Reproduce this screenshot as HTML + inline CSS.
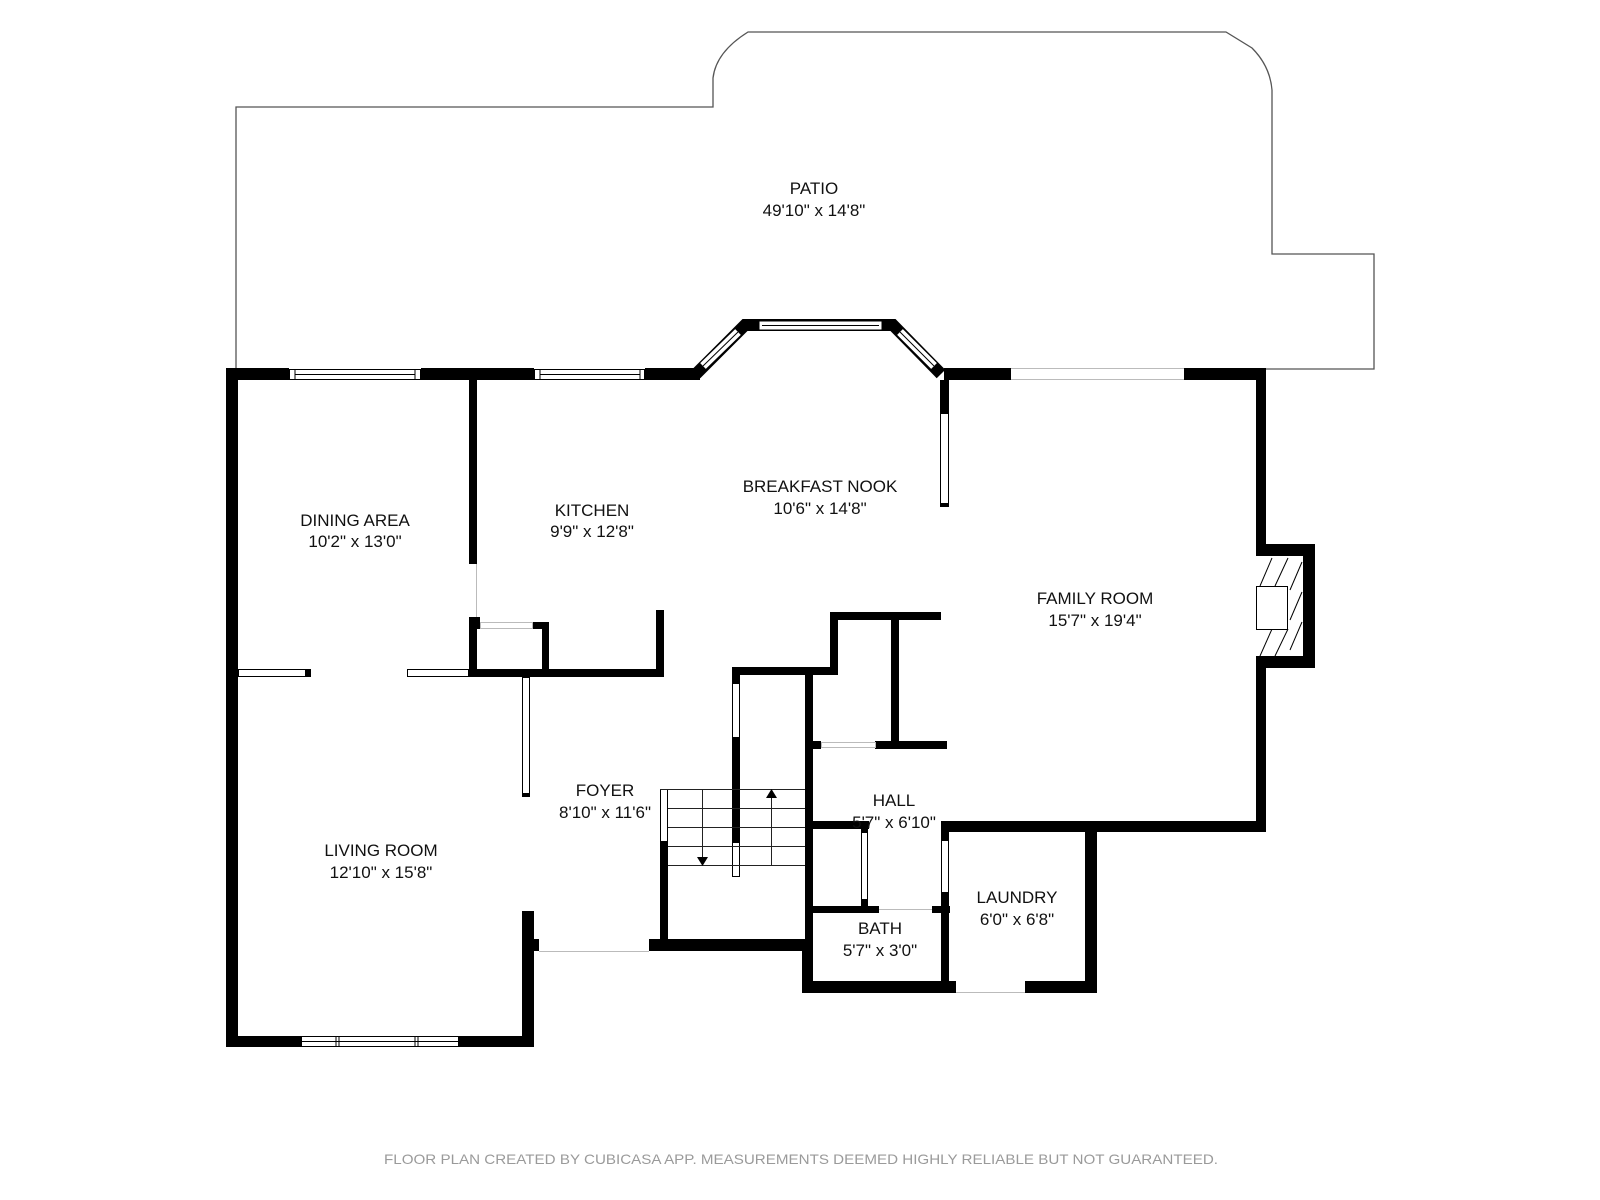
<!DOCTYPE html>
<html><head><meta charset="utf-8"><style>
html,body{margin:0;padding:0;background:#fff;}
svg{display:block;}
text{font-family:"Liberation Sans",Arial,sans-serif;fill:#111;}
</style></head><body>
<svg width="1600" height="1200" viewBox="0 0 1600 1200" xmlns="http://www.w3.org/2000/svg">
<!-- Patio outline -->
<path d="M236 368 L236 107 L713 107 L713 78 Q716 52 748 32 L1226 32 L1252 48 Q1270 66 1272 90 L1272 254 L1374 254 L1374 369 L1266 369" fill="none" stroke="#555" stroke-width="1.3"/>

<g fill="#000">
<rect x="226" y="368" width="63" height="12"/>
<rect x="421" y="368" width="113" height="12"/>
<rect x="645" y="368" width="55" height="12"/>
<rect x="226" y="368" width="12" height="679"/>
<rect x="226" y="1036" width="75" height="11"/>
<rect x="459" y="1036" width="75" height="11"/>
<rect x="522" y="911" width="12" height="136"/>
<rect x="534" y="939" width="5" height="12"/>
<rect x="469" y="380" width="8" height="184"/>
<rect x="469" y="617" width="8" height="60"/>
<rect x="469" y="617" width="11" height="12"/>
<rect x="533" y="622" width="16" height="7"/>
<rect x="542" y="622" width="7" height="55"/>
<rect x="469" y="669" width="195" height="8"/>
<rect x="656" y="610" width="8" height="67"/>
<rect x="306" y="669" width="5" height="8"/>
<rect x="522" y="793" width="8" height="4"/>
<rect x="660" y="842" width="8" height="109"/>
<rect x="649" y="939" width="164" height="12"/>
<rect x="732" y="667" width="105" height="8"/>
<rect x="830" y="612" width="8" height="63"/>
<rect x="830" y="612" width="111" height="8"/>
<rect x="891" y="620" width="8" height="129"/>
<rect x="875" y="741" width="72" height="8"/>
<rect x="812" y="741" width="9" height="8"/>
<rect x="732" y="667" width="8" height="16"/>
<rect x="732" y="738" width="8" height="104"/>
<rect x="805" y="675" width="8" height="318"/>
<rect x="802" y="939" width="11" height="54"/>
<rect x="813" y="821" width="56" height="8"/>
<rect x="861" y="821" width="7" height="11"/>
<rect x="861" y="900" width="7" height="6"/>
<rect x="813" y="906" width="66" height="7"/>
<rect x="932" y="906" width="18" height="7"/>
<rect x="941" y="821" width="8" height="19"/>
<rect x="941" y="893" width="8" height="99"/>
<rect x="802" y="981" width="154" height="12"/>
<rect x="1025" y="981" width="72" height="12"/>
<rect x="1085" y="821" width="12" height="172"/>
<rect x="941" y="821" width="325" height="11"/>
<rect x="1256" y="368" width="10" height="464"/>
<rect x="1256" y="544" width="59" height="124"/>
<rect x="944" y="368" width="67" height="12"/>
<rect x="1184" y="368" width="82" height="12"/>
<rect x="940" y="380" width="9" height="33"/>
<rect x="940" y="503" width="9" height="4"/>
</g>

<path d="M696 374 L745 325 L893 325 L941 374" fill="none" stroke="#000" stroke-width="12" stroke-linejoin="miter"/>
<rect x="759" y="321" width="123" height="9" fill="#fff" stroke="#000" stroke-width="1"/>
<line x1="762" y1="325.5" x2="879" y2="325.5" stroke="#000" stroke-width="1"/>
<line x1="703" y1="366" x2="738" y2="332" stroke="#fff" stroke-width="8"/>
<line x1="703" y1="366" x2="738" y2="332" stroke="#000" stroke-width="1"/>
<line x1="900" y1="332" x2="934" y2="366" stroke="#fff" stroke-width="8"/>
<line x1="900" y1="332" x2="934" y2="366" stroke="#000" stroke-width="1"/>

<g fill="#fff" stroke="#000" stroke-width="1">
<rect x="289.5" y="369.5" width="131" height="10"/>
<rect x="534.5" y="369.5" width="110" height="10"/>
<rect x="301.5" y="1036.5" width="157" height="10"/>
<rect x="238.5" y="669.5" width="67" height="7"/>
<rect x="407.5" y="669.5" width="61" height="7"/>
<rect x="522.5" y="677.5" width="7" height="116"/>
<rect x="660.5" y="789.5" width="7" height="52"/>
<rect x="732.5" y="683.5" width="7" height="54"/>
<rect x="732.5" y="842.5" width="7" height="34"/>
<rect x="940.5" y="413.5" width="8" height="90"/>
<rect x="861.5" y="832.5" width="6" height="67"/>
<rect x="941.5" y="840.5" width="7" height="52"/>
</g>
<g stroke="#000" stroke-width="1">
<line x1="295" y1="374.5" x2="415" y2="374.5"/>
<line x1="295" y1="370" x2="295" y2="379"/><line x1="415" y1="370" x2="415" y2="379"/>
<line x1="540" y1="374.5" x2="640" y2="374.5"/>
<line x1="540" y1="370" x2="540" y2="379"/><line x1="640" y1="370" x2="640" y2="379"/>
<line x1="301" y1="1041.5" x2="459" y2="1041.5"/>
<line x1="336" y1="1037" x2="336" y2="1046"/><line x1="339" y1="1037" x2="339" y2="1046"/>
<line x1="415" y1="1037" x2="415" y2="1046"/><line x1="418" y1="1037" x2="418" y2="1046"/>
</g>
<g stroke="#bbb" stroke-width="1" fill="none">
<line x1="1011" y1="368.5" x2="1184" y2="368.5"/>
<line x1="1011" y1="379.5" x2="1184" y2="379.5"/>
<line x1="476.5" y1="564" x2="476.5" y2="617"/>
<rect x="480.5" y="622.5" width="52" height="6"/>
<line x1="539" y1="951.5" x2="649" y2="951.5"/>
<rect x="821.5" y="742.5" width="54" height="5"/>
<line x1="879" y1="909.5" x2="932" y2="909.5"/>
<line x1="956" y1="992.5" x2="1025" y2="992.5"/>
</g>

<rect x="1256" y="556" width="47" height="100" fill="#fff"/>
<g stroke="#000" stroke-width="1">
<line x1="1260" y1="586" x2="1272" y2="558"/>
<line x1="1275" y1="586" x2="1288" y2="558"/>
<line x1="1290" y1="590" x2="1302" y2="562"/>
<line x1="1290" y1="620" x2="1302" y2="592"/>
<line x1="1290" y1="650" x2="1302" y2="622"/>
<line x1="1260" y1="656" x2="1272" y2="629"/>
<line x1="1275" y1="656" x2="1288" y2="629"/>
</g>
<rect x="1256.5" y="586.5" width="31" height="43" fill="#fff" stroke="#000" stroke-width="1"/>

<g stroke="#222" stroke-width="1">
<line x1="660" y1="789.5" x2="805" y2="789.5"/>
<line x1="668" y1="808.5" x2="805" y2="808.5"/>
<line x1="668" y1="827.5" x2="805" y2="827.5"/>
<line x1="668" y1="846.5" x2="805" y2="846.5"/>
<line x1="668" y1="865.5" x2="805" y2="865.5"/>
<line x1="702.5" y1="789" x2="702.5" y2="860"/>
<line x1="771.5" y1="795" x2="771.5" y2="865"/>
</g>
<polygon points="697,857 708,857 702.5,866" fill="#000"/>
<polygon points="766,798 777,798 771.5,789" fill="#000"/>

<g font-size="17" text-anchor="middle">
<text x="814" y="194">PATIO</text><text x="814" y="216">49'10" x 14'8"</text>
<text x="355" y="526">DINING AREA</text><text x="355" y="547">10'2" x 13'0"</text>
<text x="592" y="516">KITCHEN</text><text x="592" y="537">9'9" x 12'8"</text>
<text x="820" y="492">BREAKFAST NOOK</text><text x="820" y="514">10'6" x 14'8"</text>
<text x="1095" y="604">FAMILY ROOM</text><text x="1095" y="626">15'7" x 19'4"</text>
<text x="605" y="796">FOYER</text><text x="605" y="818">8'10" x 11'6"</text>
<text x="381" y="856">LIVING ROOM</text><text x="381" y="878">12'10" x 15'8"</text>
<text x="894" y="806">HALL</text><text x="894" y="828">5'7" x 6'10"</text>
<text x="880" y="934">BATH</text><text x="880" y="956">5'7" x 3'0"</text>
<text x="1017" y="903">LAUNDRY</text><text x="1017" y="925">6'0" x 6'8"</text>
</g>
<text x="384" y="1164" font-size="14" textLength="834" lengthAdjust="spacingAndGlyphs" style="fill:#9a9a9a">FLOOR PLAN CREATED BY CUBICASA APP. MEASUREMENTS DEEMED HIGHLY RELIABLE BUT NOT GUARANTEED.</text>
</svg>
</body></html>
